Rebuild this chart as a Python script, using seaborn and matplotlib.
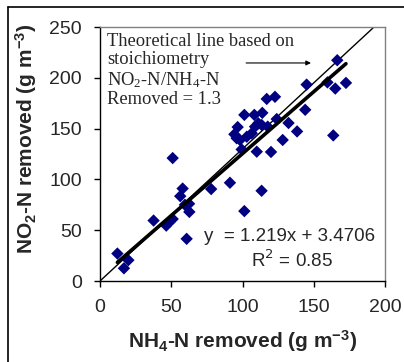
import numpy as np
import pandas as pd
import matplotlib
matplotlib.use("Agg")
import matplotlib.pyplot as plt
from matplotlib.lines import Line2D
import seaborn as sns

# ---- data ----
nh4_removed = [12.2, 16.8, 19.9, 37.6, 46.5, 49.0, 51.0, 51.0, 56.3, 58.0,
               59.6, 62.5, 62.7, 60.8, 78.0, 91.2, 101.3, 96.6, 94.3, 95.9,
               98.2, 99.4, 101.3, 103.0, 106.5, 108.3, 108.8, 110.0, 111.1, 113.5,
               113.9, 113.4, 117.0, 117.7, 120.0, 122.8, 124.0, 128.2, 132.3, 138.3,
               144.0, 145.0, 159.6, 163.7, 165.1, 166.5, 172.6]
no2_removed = [27.0, 12.5, 20.5, 59.5, 54.5, 58.5, 61.0, 121.0, 83.5, 91.0,
               75.0, 76.0, 68.0, 41.5, 90.5, 96.7, 68.8, 151.5, 144.4, 140.5,
               138.8, 129.5, 163.5, 142.0, 145.4, 163.5, 151.9, 127.3, 155.2, 153.5,
               165.5, 88.8, 179.2, 151.9, 127.0, 181.3, 159.4, 138.8, 155.5, 147.2,
               168.5, 193.3, 195.5, 143.3, 189.4, 217.3, 195.0]
fit_slope, fit_intercept = 1.219, 3.4706
theory_ratio = 1.3
theory_x = [0, 192.3]
x_ticks = [0, 50, 100, 150, 200]
y_ticks = [0, 50, 100, 150, 200, 250]
eq_text = "y  = 1.219x + 3.4706"
r2_text = "R$^2$ = 0.85"
note_text = ("Theoretical line based on\nstoichiometry\n"
             "NO$\\mathregular{_2}$-N/NH$\\mathregular{_4}$-N\nRemoved = 1.3")

df = pd.DataFrame({"nh4": nh4_removed, "no2": no2_removed})
fit_x = np.array([min(nh4_removed), max(nh4_removed)])
fit_df = pd.DataFrame({"x": fit_x, "y": fit_slope * fit_x + fit_intercept})
th_x = np.array(theory_x)
th_df = pd.DataFrame({"x": th_x, "y": theory_ratio * th_x})

sns.set_style("ticks")
plt.rcParams["font.family"] = ["Liberation Sans", "DejaVu Sans"]

fig = plt.figure(figsize=(4.04, 3.62), dpi=100)
ax = fig.add_axes([100 / 404, 1 - 281 / 362, 285 / 404, 254 / 362])

sns.lineplot(data=th_df, x="x", y="y", ax=ax, color="black", lw=1.0, zorder=2)
sns.scatterplot(data=df, x="nh4", y="no2", ax=ax, marker="D", s=40,
                color="#000080", edgecolor="none", linewidth=0, zorder=3)
sns.lineplot(data=fit_df, x="x", y="y", ax=ax, color="black", lw=2.6, zorder=4)

ax.set_xlim(0, 200)
ax.set_ylim(0, 250)
ax.set_xticks(x_ticks)
ax.set_yticks(y_ticks)
ax.tick_params(axis="both", direction="out", length=4, width=1, labelsize=14,
               color="black")
ax.tick_params(axis="x", pad=9)
ax.tick_params(axis="y", pad=9)

for side in ["left", "bottom"]:
    ax.spines[side].set_color("black")
    ax.spines[side].set_linewidth(1.0)
for side in ["top", "right"]:
    ax.spines[side].set_visible(True)
    ax.spines[side].set_color("#808080")
    ax.spines[side].set_linewidth(1.0)

ax.set_xlabel("NH$\\mathregular{_4}$-N removed (g m$\\mathregular{^{-3}}$)",
              fontsize=15, fontweight="bold")
ax.set_ylabel("NO$\\mathregular{_2}$-N removed (g m$\\mathregular{^{-3}}$)",
              fontsize=15, fontweight="bold")
ax.xaxis.set_label_coords(0.5, -0.185)
ax.yaxis.set_label_coords(-0.215, 0.56)

ax.text(5, 244, note_text, family=["Liberation Serif", "DejaVu Serif"],
        fontsize=13.3, va="top", ha="left", linespacing=1.1)
ax.annotate("", xy=(150, 214.6), xytext=(100.6, 214.6),
            arrowprops=dict(arrowstyle="-|>", color="black", lw=0.8,
                            mutation_scale=7))
ax.text(73, 44, eq_text, fontsize=13.5, va="center", ha="left")
ax.text(106, 20, r2_text, fontsize=13.5, va="center", ha="left")

# outer frame (top and left edges visible in the reference)
fig.add_artist(Line2D([8 / 404, 1], [1 - 7 / 362, 1 - 7 / 362],
                      transform=fig.transFigure, color="black", lw=1.2))
fig.add_artist(Line2D([8 / 404, 8 / 404], [0, 1 - 7 / 362],
                      transform=fig.transFigure, color="black", lw=1.2))

fig.savefig("out.png", dpi=100)
